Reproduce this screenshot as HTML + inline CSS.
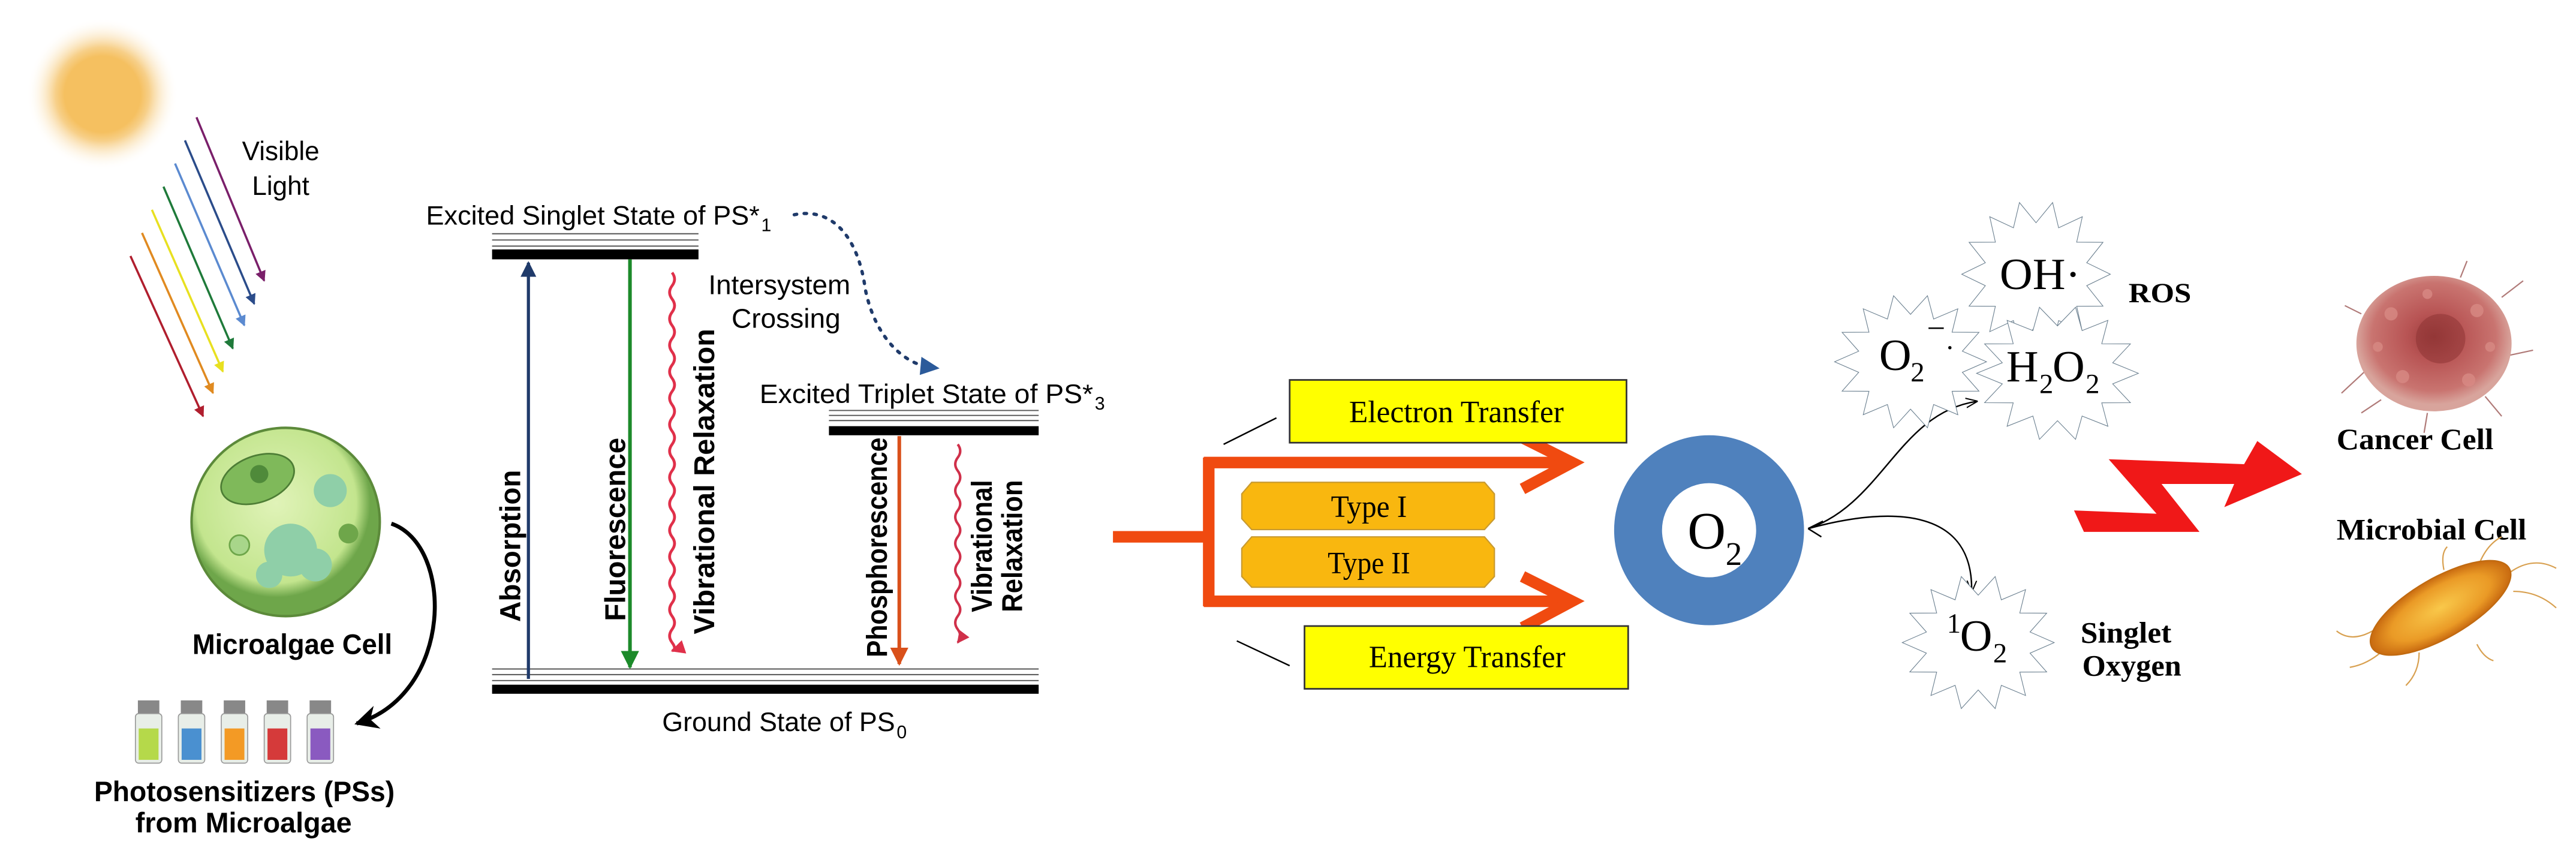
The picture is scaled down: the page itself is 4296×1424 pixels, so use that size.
<!DOCTYPE html>
<html><head><meta charset="utf-8"><style>
html,body{margin:0;padding:0;background:#fff;}
svg{display:block;}
.s{font-family:"Liberation Sans",sans-serif;}
.t{font-family:"Liberation Serif",serif;}
</style></head><body>
<svg width="4296" height="1424" viewBox="0 0 1560 517" preserveAspectRatio="none" xmlns="http://www.w3.org/2000/svg">
<defs>
<radialGradient id="sun"><stop offset="0.5" stop-color="#f5c060"/><stop offset="0.62" stop-color="#f7d08a"/><stop offset="1" stop-color="#fff" stop-opacity="0"/></radialGradient>
<radialGradient id="cell" cx="0.45" cy="0.4"><stop offset="0" stop-color="#e0f3b8"/><stop offset="0.85" stop-color="#c3e58e"/><stop offset="1" stop-color="#6ea64a"/></radialGradient>
<radialGradient id="cancer" cx="0.5" cy="0.45"><stop offset="0" stop-color="#9a3a3a"/><stop offset="0.35" stop-color="#b85454"/><stop offset="0.8" stop-color="#c97470"/><stop offset="1" stop-color="#d8a49c"/></radialGradient>
<radialGradient id="bact"><stop offset="0" stop-color="#f9c84a"/><stop offset="0.7" stop-color="#ea9a26"/><stop offset="1" stop-color="#c86a10"/></radialGradient>
<polygon id="star" points="1,0 0.682,0.156 0.901,0.434 0.547,0.436 0.623,0.782 0.304,0.631 0.223,0.975 0,0.7 -0.223,0.975 -0.304,0.631 -0.623,0.782 -0.547,0.436 -0.901,0.434 -0.682,0.156 -1,0 -0.682,-0.156 -0.901,-0.434 -0.547,-0.436 -0.623,-0.782 -0.304,-0.631 -0.223,-0.975 0,-0.7 0.223,-0.975 0.304,-0.631 0.623,-0.782 0.547,-0.436 0.901,-0.434 0.682,-0.156" fill="#fff" stroke="#6a7f8f" stroke-width="1.1" vector-effect="non-scaling-stroke"/>
<marker id="ah" viewBox="0 0 10 10" refX="9" refY="5" markerWidth="5" markerHeight="5" orient="auto"><path d="M0,0 L10,5 L0,10 z" fill="context-stroke"/></marker>
<marker id="ahk" viewBox="0 0 10 10" refX="9" refY="5" markerWidth="6" markerHeight="6" orient="auto"><path d="M0,0 L10,5 L0,10 L3,5 z" fill="#000"/></marker>
<marker id="aht" viewBox="0 0 10 10" refX="9" refY="5" markerWidth="8" markerHeight="8" orient="auto"><path d="M0,1 L10,5 L0,9" fill="none" stroke="#000" stroke-width="1"/></marker>
</defs>

<!-- sun -->
<circle cx="62" cy="57" r="46" fill="url(#sun)"/>
<text x="170" y="97" class="s" font-size="16" text-anchor="middle">Visible</text>
<text x="170" y="118" class="s" font-size="16" text-anchor="middle">Light</text>
<g stroke-width="1.3" fill="none">
<line x1="119" y1="71" x2="160" y2="170" stroke="#7a1f6a" marker-end="url(#ah)"/>
<line x1="112" y1="85" x2="154" y2="184" stroke="#2b4c8a" marker-end="url(#ah)"/>
<line x1="106" y1="99" x2="148" y2="197" stroke="#5b8ad0" marker-end="url(#ah)"/>
<line x1="99" y1="113" x2="141" y2="211" stroke="#1f7a3a" marker-end="url(#ah)"/>
<line x1="92" y1="127" x2="135" y2="225" stroke="#e8e020" marker-end="url(#ah)"/>
<line x1="86" y1="141" x2="129" y2="238" stroke="#e08a20" marker-end="url(#ah)"/>
<line x1="79" y1="155" x2="123" y2="252" stroke="#b01e2e" marker-end="url(#ah)"/>
</g>

<!-- microalgae cell -->
<circle cx="173" cy="316" r="57" fill="url(#cell)" stroke="#5c8a3a" stroke-width="1.5"/>
<ellipse cx="156" cy="290" rx="23" ry="14" transform="rotate(-20 156 290)" fill="#7fb95a" stroke="#4d7d35"/>
<circle cx="157" cy="287" r="5.5" fill="#4f8a3a"/>
<circle cx="200" cy="297" r="10" fill="#8fcfa8"/>
<circle cx="176" cy="333" r="16" fill="#8fcfa8"/>
<circle cx="191" cy="342" r="10" fill="#8fcfa8"/>
<circle cx="163" cy="348" r="8" fill="#8fcfa8"/>
<circle cx="145" cy="330" r="6" fill="#a8d68a" stroke="#6ea64a"/>
<circle cx="211" cy="323" r="6" fill="#6ea64a"/>
<text x="177" y="396" class="s" font-size="17" font-weight="bold" text-anchor="middle" textLength="121" lengthAdjust="spacingAndGlyphs">Microalgae Cell</text>
<path d="M237,317 C275,330 275,420 216,438" fill="none" stroke="#000" stroke-width="2.4" marker-end="url(#ahk)"/>
<!-- vials -->
<g>
<g transform="translate(82,424)"><rect x="1.5" y="0" width="13" height="8" fill="#888"/><rect x="0" y="8" width="16" height="30" rx="2" fill="#e8eee8" stroke="#999" stroke-width="0.6"/><rect x="2" y="17" width="12" height="19" fill="#b5d94a"/></g>
<g transform="translate(108,424)"><rect x="1.5" y="0" width="13" height="8" fill="#888"/><rect x="0" y="8" width="16" height="30" rx="2" fill="#e8eee8" stroke="#999" stroke-width="0.6"/><rect x="2" y="17" width="12" height="19" fill="#4a90d0"/></g>
<g transform="translate(134,424)"><rect x="1.5" y="0" width="13" height="8" fill="#888"/><rect x="0" y="8" width="16" height="30" rx="2" fill="#e8eee8" stroke="#999" stroke-width="0.6"/><rect x="2" y="17" width="12" height="19" fill="#f39a25"/></g>
<g transform="translate(160,424)"><rect x="1.5" y="0" width="13" height="8" fill="#888"/><rect x="0" y="8" width="16" height="30" rx="2" fill="#e8eee8" stroke="#999" stroke-width="0.6"/><rect x="2" y="17" width="12" height="19" fill="#d53a3a"/></g>
<g transform="translate(186,424)"><rect x="1.5" y="0" width="13" height="8" fill="#888"/><rect x="0" y="8" width="16" height="30" rx="2" fill="#e8eee8" stroke="#999" stroke-width="0.6"/><rect x="2" y="17" width="12" height="19" fill="#8a5ac0"/></g>
</g>
<text x="57" y="485" class="s" font-size="17" font-weight="bold" textLength="182" lengthAdjust="spacingAndGlyphs">Photosensitizers (PSs)</text>
<text x="82" y="504" class="s" font-size="17" font-weight="bold" textLength="131" lengthAdjust="spacingAndGlyphs">from Microalgae</text>

<!-- Jablonski -->
<g stroke="#555" stroke-width="0.7">
<line x1="298" y1="141.5" x2="423" y2="141.5"/><line x1="298" y1="145.3" x2="423" y2="145.3"/><line x1="298" y1="149" x2="423" y2="149"/>
<line x1="502" y1="248.5" x2="629" y2="248.5"/><line x1="502" y1="251.5" x2="629" y2="251.5"/><line x1="502" y1="254.6" x2="629" y2="254.6"/>
<line x1="298" y1="405" x2="629" y2="405"/><line x1="298" y1="408.4" x2="629" y2="408.4"/><line x1="298" y1="412" x2="629" y2="412"/>
</g>
<rect x="298" y="151" width="125" height="6" fill="#000"/>
<rect x="502" y="258" width="127" height="5.5" fill="#000"/>
<rect x="298" y="414.5" width="331" height="5.5" fill="#000"/>
<text x="258" y="136" class="s" font-size="16" textLength="202" lengthAdjust="spacingAndGlyphs">Excited Singlet State of PS*</text><text x="461" y="140" class="s" font-size="11">1</text>
<text x="460" y="244" class="s" font-size="16" textLength="202" lengthAdjust="spacingAndGlyphs">Excited Triplet State of PS*</text><text x="663" y="248" class="s" font-size="11">3</text>
<text x="401" y="442.6" class="s" font-size="16" textLength="141" lengthAdjust="spacingAndGlyphs">Ground State of PS</text><text x="543" y="447" class="s" font-size="11">0</text>
<text x="472" y="178" class="s" font-size="16.5" text-anchor="middle" textLength="86" lengthAdjust="spacingAndGlyphs">Intersystem</text>
<text x="476" y="198.5" class="s" font-size="16.5" text-anchor="middle" textLength="66" lengthAdjust="spacingAndGlyphs">Crossing</text>
<path d="M481,130 C505,125 520,145 524,175 C530,205 548,220 562,222" fill="none" stroke="#1f3a6a" stroke-width="2" stroke-dasharray="1.5,4.5" stroke-linecap="round"/>
<path d="M558,216 L569,223 L557,227 z" fill="#2b5a9a"/>

<line x1="320" y1="411" x2="320" y2="159" stroke="#1f3a6a" stroke-width="1.9" marker-end="url(#ah)"/>
<line x1="381.5" y1="157" x2="381.5" y2="404" stroke="#1c8a2a" stroke-width="2.2" marker-end="url(#ah)"/>
<line x1="544.6" y1="264" x2="544.6" y2="402" stroke="#d9501a" stroke-width="2.2" marker-end="url(#ah)"/>
<path d="M407,165 q3,4 0,8 q-3,4 0,8 q3,4 0,8 q-3,4 0,8 q3,4 0,8 q-3,4 0,8 q3,4 0,8 q-3,4 0,8 q3,4 0,8 q-3,4 0,8 q3,4 0,8 q-3,4 0,8 q3,4 0,8 q-3,4 0,8 q3,4 0,8 q-3,4 0,8 q3,4 0,8 q-3,4 0,8 q3,4 0,8 q-3,4 0,8 q3,4 0,8 q-3,4 0,8 q3,4 0,8 q-3,4 0,8 q3,4 0,8 q-3,4 0,8 q3,4 0,8 q-3,4 0,8 q3,4 0,5" fill="none" stroke="#e0304a" stroke-width="1.7" marker-end="url(#ah)"/>
<path d="M580,269 q3,4 0,8 q-3,4 0,8 q3,4 0,8 q-3,4 0,8 q3,4 0,8 q-3,4 0,8 q3,4 0,8 q-3,4 0,8 q3,4 0,8 q-3,4 0,8 q3,4 0,8 q-3,4 0,8 q3,4 0,8 q-3,4 0,8 q3,4 0,8" fill="none" stroke="#d0304a" stroke-width="1.5" marker-end="url(#ah)"/>
<g class="s" font-size="17.5" font-weight="bold">
<text transform="translate(315,330.5) rotate(-90)" text-anchor="middle" textLength="92" lengthAdjust="spacingAndGlyphs">Absorption</text>
<text transform="translate(378.5,320.5) rotate(-90)" text-anchor="middle" textLength="111" lengthAdjust="spacingAndGlyphs">Fluorescence</text>
<text transform="translate(432.5,291.5) rotate(-90)" text-anchor="middle" textLength="185" lengthAdjust="spacingAndGlyphs">Vibrational  Relaxation</text>
<text transform="translate(537,331.4) rotate(-90)" text-anchor="middle" textLength="133" lengthAdjust="spacingAndGlyphs">Phosphorescence</text>
<text transform="translate(600.6,330.6) rotate(-90)" text-anchor="middle" textLength="80" lengthAdjust="spacingAndGlyphs">Vibrational</text>
<text transform="translate(619,330.6) rotate(-90)" text-anchor="middle" textLength="80" lengthAdjust="spacingAndGlyphs">Relaxation</text>
</g>

<!-- orange branching arrows -->
<g stroke="#f04a10" stroke-width="7" fill="none">
<line x1="674" y1="325" x2="732" y2="325"/>
<line x1="732" y1="277" x2="732" y2="367"/>
<line x1="729" y1="280" x2="951" y2="280"/>
<line x1="729" y1="364" x2="951" y2="364"/>
<polyline points="922,265 952,280 922,296"/>
<polyline points="922,349 952,364 922,380"/>
</g>
<polygon points="758,292 899,292 905,299 905,314 899,320.6 758,320.6 752,314 752,299" fill="#f9b70f" stroke="#c89a30" stroke-width="0.8"/>
<polygon points="758,325 899,325 905,332 905,349 899,355.5 758,355.5 752,349 752,332" fill="#f9b70f" stroke="#c89a30" stroke-width="0.8"/>
<text x="829" y="313" class="t" font-size="19" text-anchor="middle" textLength="46" lengthAdjust="spacingAndGlyphs">Type I</text>
<text x="829" y="347" class="t" font-size="19" text-anchor="middle" textLength="50" lengthAdjust="spacingAndGlyphs">Type II</text>
<rect x="781" y="230" width="204" height="38" fill="#ffff00" stroke="#333" stroke-width="1"/>
<rect x="790" y="379" width="196" height="38" fill="#ffff00" stroke="#333" stroke-width="1"/>
<text x="817" y="255.6" class="t" font-size="19" textLength="130" lengthAdjust="spacingAndGlyphs">Electron Transfer</text>
<text x="829" y="404" class="t" font-size="19" textLength="119" lengthAdjust="spacingAndGlyphs">Energy Transfer</text>
<line x1="741" y1="269" x2="773" y2="253" stroke="#000" stroke-width="0.9"/>
<line x1="749" y1="388" x2="781" y2="403" stroke="#000" stroke-width="0.9"/>

<!-- O2 donut -->
<circle cx="1035" cy="321" r="43" fill="none" stroke="#4f81bd" stroke-width="29"/>
<text x="1022" y="332" class="t" font-size="32">O</text><text x="1045" y="342" class="t" font-size="20">2</text>

<!-- curves -->
<path d="M1095,320 C1140,305 1150,250 1197,243" fill="none" stroke="#000" stroke-width="0.9" marker-end="url(#aht)"/>
<path d="M1095,320 C1150,305 1195,310 1194,358" fill="none" stroke="#000" stroke-width="0.9" marker-end="url(#aht)"/>
<path d="M1095,320 l9,-4.5 M1095,320 l8,5" stroke="#000" stroke-width="0.9"/>

<!-- stars -->
<use href="#star" transform="translate(1233,166) scale(45,44.5)"/>
<use href="#star" transform="translate(1157,219) scale(46,41)"/>
<use href="#star" transform="translate(1246,226) scale(49,41)"/>
<use href="#star" transform="translate(1198,389) scale(46,41)"/>
<text x="1211" y="175" class="t" font-size="27" textLength="49" lengthAdjust="spacingAndGlyphs">OH·</text>
<text x="1138" y="224" class="t" font-size="27">O</text><text x="1157" y="231" class="t" font-size="17">2</text>
<text x="1168" y="203" class="t" font-size="18">–</text>
<text x="1178" y="216" class="t" font-size="17">·</text>
<text x="1215" y="231" class="t" font-size="27">H</text><text x="1235" y="238" class="t" font-size="17">2</text><text x="1243" y="231" class="t" font-size="27">O</text><text x="1263" y="238" class="t" font-size="17">2</text>
<text x="1179" y="383" class="t" font-size="17">1</text><text x="1187" y="394" class="t" font-size="27">O</text><text x="1207" y="401" class="t" font-size="17">2</text>
<text x="1289" y="183" class="t" font-size="17" font-weight="bold" textLength="38" lengthAdjust="spacingAndGlyphs">ROS</text>
<text x="1260" y="389" class="t" font-size="18" font-weight="bold" textLength="55" lengthAdjust="spacingAndGlyphs">Singlet</text>
<text x="1261" y="409" class="t" font-size="18" font-weight="bold" textLength="60" lengthAdjust="spacingAndGlyphs">Oxygen</text>

<!-- lightning -->
<polygon points="1256,309 1306,311 1277,278 1359,281 1367,267 1394,287 1347,307 1353,293 1309,293 1332,322 1262,322" fill="#f01818"/>

<!-- cancer cell -->
<g stroke="#b07a78" stroke-width="0.8">
<line x1="1432" y1="225" x2="1418" y2="238"/><line x1="1520" y1="215" x2="1534" y2="212"/><line x1="1470" y1="250" x2="1468" y2="262"/><line x1="1505" y1="240" x2="1515" y2="252"/><line x1="1442" y1="242" x2="1430" y2="250"/><line x1="1515" y1="180" x2="1528" y2="170"/><line x1="1430" y1="190" x2="1420" y2="185"/><line x1="1490" y1="168" x2="1494" y2="158"/>
</g>
<ellipse cx="1474" cy="208" rx="47" ry="41" fill="url(#cancer)"/>
<g fill="#d88a84" opacity="0.8">
<circle cx="1448" cy="190" r="4"/><circle cx="1500" cy="188" r="4"/><circle cx="1455" cy="228" r="4"/><circle cx="1495" cy="230" r="4"/><circle cx="1470" cy="178" r="3"/><circle cx="1508" cy="210" r="3"/><circle cx="1440" cy="210" r="3"/>
</g>
<circle cx="1478" cy="205" r="15" fill="#8e3434" opacity="0.55"/>
<text x="1415" y="272" class="t" font-size="18" font-weight="bold" textLength="95" lengthAdjust="spacingAndGlyphs">Cancer Cell</text>
<text x="1415" y="326.5" class="t" font-size="18" font-weight="bold" textLength="115" lengthAdjust="spacingAndGlyphs">Microbial  Cell</text>
<!-- bacterium -->
<g stroke="#d8a050" stroke-width="0.8" fill="none">
<path d="M1440,380 q-15,10 -25,2"/><path d="M1445,392 q-10,10 -22,12"/><path d="M1518,348 q15,-12 30,-4"/><path d="M1522,358 q15,0 26,10"/><path d="M1465,395 q0,12 -8,20"/><path d="M1500,345 q5,-15 15,-20"/><path d="M1480,345 q-2,-10 2,-14"/><path d="M1500,390 q4,8 10,10"/>
</g>
<ellipse cx="1478" cy="368" rx="48" ry="18" transform="rotate(-30 1478 368)" fill="url(#bact)" stroke="#c06a10" stroke-width="0.8"/>
</svg>
</body></html>
